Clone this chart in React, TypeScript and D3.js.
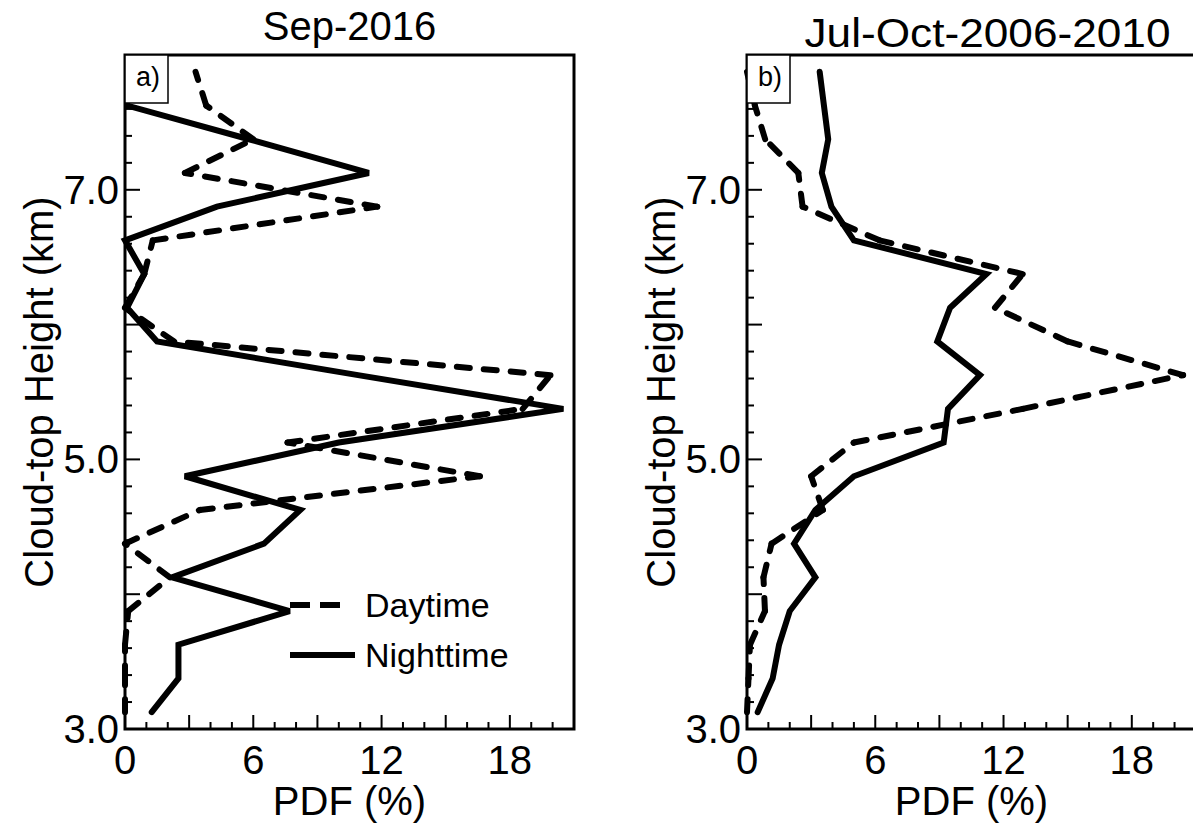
import React from 'react';
import * as d3 from 'd3';

// cloud-top height bins (km), bottom to top
const heights = [3.125, 3.375, 3.625, 3.875, 4.125, 4.375, 4.625, 4.875, 5.125, 5.375,
  5.625, 5.875, 6.125, 6.375, 6.625, 6.875, 7.125, 7.375, 7.625, 7.875];

// PDF (%) per bin
const sepDaytime = [0, 0, 0, 0.15, 2.1, 0, 3.5, 16.6, 7.6, 18.6,
  19.9, 2.3, 0, 0.9, 1.3, 11.8, 2.8, 6.0, 3.8, 3.3];
const sepNighttime = [1.25, 2.5, 2.5, 7.7, 2.2, 6.5, 8.2, 2.8, 10.0, 20.5,
  10.9, 1.5, 0.1, 0.9, 0, 4.3, 11.4, 5.8, 0.1, 0.1];
const climDaytime = [0, 0.07, 0.14, 0.84, 0.77, 1.15, 3.55, 3.0, 5.0, 12.9,
  20.4, 15.0, 11.6, 12.9, 6.2, 2.6, 2.4, 0.85, 0.37, 0];
const climNighttime = [0.5, 1.2, 1.5, 2.0, 3.2, 2.2, 3.2, 5.0, 9.2, 9.4,
  10.9, 8.9, 9.5, 11.2, 5.0, 3.95, 3.5, 3.8, 3.6, 3.4];

const xTickLabels = [0, 6, 12, 18];
const yTickLabels = [3.0, 5.0, 7.0];
const legendItems = ['Daytime', 'Nighttime'];

const FONT = '"Liberation Sans", Arial, Helvetica, sans-serif';
const TOP = 55;
const BOTTOM = 729;

type PanelProps = {
  left: number;
  right: number;
  xMax: number;
  title: string;
  titleY: number;
  titleWidth?: number;
  tag: string;
  day: number[];
  night: number[];
  showLegend?: boolean;
};

function Panel({ left, right, xMax, title, titleY, titleWidth, tag, day, night, showLegend }: PanelProps) {
  const x = d3.scaleLinear().domain([0, xMax]).range([left, right]);
  const y = d3.scaleLinear().domain([3, 8]).range([BOTTOM, TOP]);

  const line = d3.line<[number, number]>()
    .x(d => x(d[0]))
    .y(d => y(d[1]));

  const dayPts: [number, number][] = heights.map((h, i) => [day[i], h]);
  const nightPts: [number, number][] = heights.map((h, i) => [night[i], h]);

  const xMinor = d3.range(0, xMax + 0.001, 1);
  const yMinor = d3.range(3, 8.001, 0.2);

  const lineStyle = { fill: 'none', stroke: '#000', strokeWidth: 6 };

  return (
    <g>
      {/* minor / major ticks */}
      {xMinor.map(v => {
        const major = Math.round(v) % 3 === 0;
        return (
          <line key={'xt' + v} x1={x(v)} x2={x(v)} y1={BOTTOM} y2={BOTTOM - (major ? 14 : 7)}
            stroke="#000" strokeWidth={2} />
        );
      })}
      {yMinor.map(v => {
        const major = Math.abs(v - Math.round(v)) < 0.01;
        return (
          <line key={'yt' + v} x1={left} x2={left + (major ? 15 : 7)} y1={y(v)} y2={y(v)}
            stroke="#000" strokeWidth={2} />
        );
      })}

      {/* daytime: dash pattern restarts on each segment */}
      {d3.pairs(dayPts).map((seg, i) => (
        <path key={'d' + i} d={line(seg) || ''} {...lineStyle}
          strokeDasharray="13 14" strokeLinecap="round" />
      ))}
      <path d={line(nightPts) || ''} {...lineStyle} strokeLinejoin="miter" strokeMiterlimit={3}
        strokeLinecap="round" />

      {/* frame */}
      <rect x={left} y={TOP} width={right - left} height={BOTTOM - TOP}
        fill="none" stroke="#000" strokeWidth={3} />

      {/* panel tag */}
      <rect x={left} y={TOP} width={43} height={48} fill="#fff" stroke="#000" strokeWidth={1.5} />
      <text x={left + 11} y={TOP + 31} fontSize={27} fontFamily={FONT}>{tag}</text>

      {/* tick labels */}
      {xTickLabels.map(v => (
        <text key={'xl' + v} x={x(v)} y={BOTTOM + 45} textAnchor="middle" fontSize={40}
          fontFamily={FONT}>{v}</text>
      ))}
      {yTickLabels.map(v => (
        <text key={'yl' + v} x={left - 6} y={y(v) + 14} textAnchor="end" fontSize={40}
          fontFamily={FONT}>{v.toFixed(1)}</text>
      ))}

      {/* axis titles */}
      <text x={(left + (left + 449)) / 2} y={BOTTOM + 86} textAnchor="middle" fontSize={40}
        fontFamily={FONT}>PDF (%)</text>
      <text transform={`translate(${left - 72},${(TOP + BOTTOM) / 2}) rotate(-90)`}
        textAnchor="middle" fontSize={40} fontFamily={FONT}>Cloud-top Height (km)</text>
      <text x={(left + right) / 2} y={titleY} textAnchor="middle" fontSize={40}
        fontFamily={FONT} textLength={titleWidth} lengthAdjust="spacingAndGlyphs">{title}</text>

      {showLegend && (
        <g>
          <line x1={290} x2={350} y1={605} y2={605} stroke="#000" strokeWidth={6}
            strokeDasharray="20 10" />
          <line x1={290} x2={355} y1={655} y2={655} stroke="#000" strokeWidth={6} />
          <text x={365} y={617} fontSize={34} fontFamily={FONT}>{legendItems[0]}</text>
          <text x={365} y={667} fontSize={34} fontFamily={FONT}>{legendItems[1]}</text>
        </g>
      )}
    </g>
  );
}

export default function App() {
  return (
    <svg width={1193} height={829} style={{ position: 'absolute', left: 0, top: 0, background: '#fff' }}>
      <rect width={1193} height={829} fill="#fff" />
      <Panel left={125} right={574} xMax={21} title="Sep-2016" titleY={40} tag="a)"
        day={sepDaytime} night={sepNighttime} showLegend />
      <Panel left={747} right={1228} xMax={22.5} title="Jul-Oct-2006-2010" titleY={47}
        titleWidth={366} tag="b)" day={climDaytime} night={climNighttime} />
    </svg>
  );
}
